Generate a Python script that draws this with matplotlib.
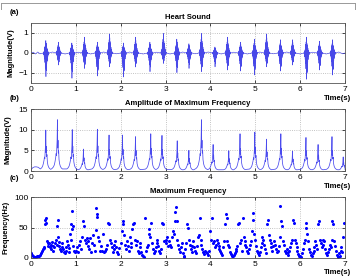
import matplotlib
matplotlib.use('Agg')
import matplotlib.pyplot as plt
import numpy as np
from matplotlib.lines import Line2D

plt.rcParams['font.family'] = ['Liberation Sans', 'DejaVu Sans']

# --- (a) heart sound: burst times and their peak amplitudes
burst_t = [0.33, 0.61, 0.91, 1.19, 1.48, 1.75, 2.06, 2.33, 2.65, 2.95, 3.25, 3.52,
           3.80, 4.10, 4.38, 4.67, 4.98, 5.25, 5.56, 5.83, 6.14, 6.43, 6.72]
burst_pos = [0.62, 0.54, 0.50, 0.79, 0.54, 0.95, 0.50, 0.79, 0.54, 0.98, 0.69, 0.46,
             0.98, 0.30, 0.79, 0.54, 0.69, 0.95, 0.66, 0.66, 0.79, 0.59, 0.66]
burst_neg = [-1.18, -0.60, -1.26, -0.77, -1.15, -0.69, -1.20, -0.70, -0.93, -0.52, -0.98, -0.77,
             -0.93, -0.69, -0.85, -0.90, -1.10, -0.69, -0.90, -0.60, -1.31, -0.85, -1.10]
# waveform shape of one burst (offset in s, relative amplitude)
burst_dt = [-0.055, -0.050, -0.045, -0.040, -0.035, -0.031, -0.027, -0.023, -0.019, -0.015,
            -0.011, -0.007, -0.003, 0.0, 0.003, 0.006, 0.009, 0.012, 0.015, 0.018,
            0.021, 0.025, 0.029, 0.033, 0.037, 0.042, 0.047, 0.052, 0.058, 0.064, 0.070]
burst_rel = [0.0, 0.06, -0.08, 0.12, -0.15, 0.2, -0.25, 0.45, -0.4, 0.55,
             -0.6, 0.7, -0.5, 1.0, -1.0, 0.8, -0.7, 0.6, -0.75, 0.5,
             -0.45, 0.4, -0.35, 0.3, -0.25, 0.18, -0.14, 0.1, -0.07, 0.04, 0.0]
# small baseline ripple between bursts
ripple_t = [0.05, 0.1, 0.15, 0.2, 0.48, 0.76, 1.05, 1.33, 1.62, 1.9, 2.2, 2.5, 2.8,
            3.1, 3.38, 3.66, 3.95, 4.24, 4.52, 4.82, 5.1, 5.4, 5.7, 6.0, 6.28, 6.58, 6.86, 6.95]
ripple_v = [0.04, -0.05, 0.05, -0.04, 0.05, -0.05, 0.04, -0.05, 0.05, -0.04, 0.05, -0.05, 0.04,
            -0.05, 0.05, -0.04, 0.05, -0.05, 0.04, -0.05, 0.05, -0.04, 0.05, -0.05, 0.04, -0.05, 0.05, -0.04]

# --- (b) amplitude of maximum frequency: peak times and heights
peak_t = [0.33, 0.59, 0.92, 1.17, 1.48, 1.74, 2.04, 2.33, 2.67, 2.92, 3.26, 3.52,
          3.80, 4.06, 4.41, 4.66, 4.99, 5.25, 5.57, 5.83, 6.13, 6.40, 6.71, 6.96]
peak_v = [9.9, 12.4, 10.0, 5.3, 10.1, 8.7, 8.7, 8.3, 9.0, 8.6, 7.3, 5.0,
          12.4, 6.4, 4.9, 9.0, 9.4, 7.7, 9.0, 4.8, 8.1, 6.4, 8.3, 3.4]
peak_dt = [-0.12, -0.09, -0.07, -0.055, -0.04, -0.03, -0.022, -0.015, -0.008, 0.0,
           0.006, 0.012, 0.018, 0.026, 0.035, 0.048, 0.065, 0.085, 0.11]
peak_rel = [0.05, 0.08, 0.12, 0.18, 0.26, 0.34, 0.3, 0.45, 0.6, 1.0,
            0.45, 0.6, 0.35, 0.4, 0.22, 0.14, 0.09, 0.06, 0.04]
start_t = [0.0, 0.04, 0.08, 0.12, 0.16, 0.20]
start_v = [0.3, 0.8, 1.0, 1.0, 0.9, 0.6]

# --- (c) maximum frequency scatter
freq_t = [0.0, 0.02, 0.04, 0.06, 0.08, 0.1, 0.12, 0.14, 0.16, 0.18, 0.2, 0.22, 0.24, 0.26, 0.28,
          0.29, 0.31, 0.32, 0.33, 0.34, 0.35, 0.37, 0.38, 0.4, 0.42, 0.44, 0.45, 0.47, 0.49, 0.5,
          0.52, 0.53, 0.55, 0.57, 0.58, 0.6, 0.6, 0.62, 0.63, 0.65, 0.66, 0.68, 0.7, 0.72, 0.73,
          0.75, 0.77, 0.79, 0.8, 0.82, 0.84, 0.85, 0.87, 0.89, 0.9, 0.91, 0.92, 0.93, 0.94, 0.96, 0.98,
          1.0, 1.02, 1.05, 1.08, 1.1, 1.12, 1.14, 1.17, 1.18, 1.2, 1.22, 1.24, 1.26, 1.28, 1.3,
          1.32, 1.34, 1.36, 1.38, 1.4, 1.42, 1.44, 1.46, 1.47, 1.48, 1.5, 1.52, 1.54, 1.56, 1.58,
          1.6, 1.62, 1.65, 1.68, 1.7, 1.72, 1.74, 1.76, 1.78, 1.8, 1.82, 1.84, 1.86, 1.88, 1.9,
          1.92, 1.95, 1.97,
          2.0, 2.02, 2.04, 2.05, 2.07, 2.1, 2.12, 2.14, 2.16, 2.18, 2.2, 2.22, 2.24, 2.26, 2.28,
          2.3, 2.32, 2.34, 2.36, 2.38, 2.4, 2.42, 2.44, 2.46, 2.48, 2.5, 2.52, 2.54, 2.56, 2.58,
          2.6, 2.62, 2.64, 2.66, 2.68, 2.7, 2.72, 2.74, 2.76, 2.78, 2.8, 2.82, 2.84, 2.86, 2.88,
          2.9, 2.92, 2.94, 2.96,
          3.0, 3.02, 3.04, 3.06, 3.08, 3.1, 3.12, 3.14, 3.16, 3.18, 3.2, 3.22, 3.24, 3.25, 3.26,
          3.28, 3.3, 3.32, 3.34, 3.36, 3.38, 3.4, 3.42, 3.44, 3.46, 3.48, 3.5, 3.52, 3.54, 3.56,
          3.58, 3.6, 3.62, 3.64, 3.66, 3.68, 3.7, 3.72, 3.74, 3.76, 3.78, 3.8, 3.82, 3.84, 3.86,
          3.88, 3.9, 3.92, 3.95, 3.97,
          4.0, 4.02, 4.04, 4.06, 4.08, 4.1, 4.12, 4.14, 4.16, 4.18, 4.2, 4.22, 4.24, 4.26, 4.28,
          4.3, 4.32, 4.34, 4.36, 4.38, 4.4, 4.42, 4.44, 4.46, 4.48, 4.5, 4.52, 4.54, 4.56, 4.58,
          4.6, 4.62, 4.64, 4.66, 4.68, 4.7, 4.72, 4.74, 4.76, 4.78, 4.8, 4.82, 4.84, 4.86, 4.88,
          4.9, 4.92, 4.94, 4.96, 4.98,
          5.0, 5.02, 5.04, 5.06, 5.08, 5.1, 5.12, 5.14, 5.16, 5.18, 5.2, 5.22, 5.24, 5.26, 5.28,
          5.3, 5.32, 5.34, 5.36, 5.38, 5.4, 5.42, 5.44, 5.46, 5.48, 5.5, 5.52, 5.54, 5.56, 5.58,
          5.6, 5.62, 5.64, 5.66, 5.68, 5.7, 5.72, 5.74, 5.76, 5.78, 5.8, 5.82, 5.84, 5.86, 5.88,
          5.9, 5.92, 5.94, 5.96, 5.98,
          6.0, 6.02, 6.04, 6.06, 6.08, 6.1, 6.12, 6.14, 6.16, 6.18, 6.2, 6.22, 6.24, 6.26, 6.28,
          6.3, 6.32, 6.34, 6.36, 6.38, 6.4, 6.42, 6.44, 6.46, 6.48, 6.5, 6.52, 6.54, 6.56, 6.58,
          6.6, 6.62, 6.64, 6.66, 6.68, 6.7, 6.72, 6.74, 6.76, 6.78, 6.8, 6.82, 6.84, 6.86, 6.88,
          6.9, 6.92, 6.94, 6.96, 6.98]
freq_hz = [8, 5, 3, 2, 2, 2, 2, 3, 3, 4, 5, 8, 12, 15, 17,
           18, 55, 62, 65, 58, 28, 24, 20, 25, 18, 15, 22, 27, 20, 12,
           18, 25, 30, 22, 52, 63, 35, 26, 20, 15, 12, 24, 18, 14, 10,
           8, 12, 18, 28, 22, 16, 10, 40, 30, 55, 77, 48, 52, 20, 12, 10,
           12, 18, 10, 22, 28, 15, 35, 60, 52, 30, 25, 32, 20, 28, 15,
           33, 10, 25, 38, 22, 12, 46, 82, 72, 68, 35, 28, 12, 20, 12,
           40, 10, 12, 15, 22, 57, 55, 30, 25, 18, 10, 14, 22, 28, 18,
           10, 6, 16,
           25, 45, 60, 55, 38, 22, 15, 28, 20, 12, 35, 25, 18, 48, 55,
           58, 30, 22, 28, 12, 8, 18, 25, 10, 5, 3, 2, 65, 12, 18,
           22, 40, 48, 35, 58, 25, 15, 8, 12, 18, 25, 30, 20, 12, 8,
           15, 58, 55, 28,
           30, 25, 35, 20, 28, 22, 18, 35, 45, 40, 60, 75, 83, 60, 30,
           22, 15, 10, 18, 25, 8, 3, 2, 15, 25, 55, 50, 30, 22, 15,
           10, 20, 28, 18, 12, 8, 20, 35, 38, 65, 30, 22, 15, 10, 6,
           12, 10, 8, 5, 12,
           45, 30, 65, 25, 28, 18, 22, 30, 25, 15, 20, 12, 8, 5, 18,
           28, 55, 72, 65, 28, 22, 18, 10, 6, 4, 3, 5, 8, 12, 15,
           20, 55, 58, 25, 30, 12, 65, 35, 28, 22, 18, 12, 8, 15, 22,
           28, 45, 74, 62, 40,
           30, 20, 12, 8, 5, 10, 18, 25, 35, 30, 22, 15, 8, 55, 62,
           38, 30, 25, 18, 12, 20, 28, 22, 15, 10, 12, 20, 35, 85, 60,
           52, 28, 22, 12, 8, 15, 10, 5, 12, 18, 25, 30, 62, 58, 30,
           25, 18, 12, 6, 3,
           3, 2, 8, 15, 25, 30, 50, 58, 40, 28, 15, 10, 5, 3, 8,
           12, 18, 28, 22, 15, 55, 60, 30, 25, 18, 22, 30, 28, 15, 8,
           5, 10, 15, 22, 18, 30, 60, 55, 28, 20, 12, 5, 2, 8, 3,
           12, 18, 10, 35, 58]

# build the heart sound line from the bursts and the ripple points
pts = [(0.0, 0.0), (7.0, 0.0)] + list(zip(ripple_t, ripple_v))
for t0, vp, vn in zip(burst_t, burst_pos, burst_neg):
    for dt, r in zip(burst_dt, burst_rel):
        pts.append((t0 + dt, r * vp if r >= 0 else -r * vn))
pts.sort()
a_t = [p[0] for p in pts]
a_v = [p[1] for p in pts]

# build the amplitude line from the peaks
b_t = list(start_t)
b_v = list(start_v)
for t0, v in zip(peak_t, peak_v):
    for dt, r in zip(peak_dt, peak_rel):
        b_t.append(t0 + dt)
        b_v.append(max(r * v, 0.3))
b_t.append(7.0)
b_v.append(0.4)

fig = plt.figure(figsize=(3.56, 2.78), dpi=100)
W, H = 356.0, 278.0


def make_axes(top, bottom):
    ax = fig.add_axes([31 / W, 1 - bottom / H, 314 / W, (bottom - top) / H])
    ax.set_xlim(0, 7)
    ax.set_xticks(range(8))
    ax.grid(True, color='#b0b0b0', linestyle=':', linewidth=0.6)
    ax.tick_params(direction='in', length=2, width=0.5, labelsize=6, pad=2,
                   top=True, right=True)
    for s in ax.spines.values():
        s.set_linewidth(0.6)
        s.set_color('#555555')
    return ax


ax1 = make_axes(23, 83)
ax1.plot(a_t, a_v, color='#4848e8', linewidth=0.45)
ax1.set_ylim(-1.5, 1.5)
ax1.set_yticks([-1, 0, 1])
ax1.set_ylabel('Magnitude(V)', fontsize=5.5, fontweight='bold', labelpad=3)
ax1.set_title('Heart Sound', fontsize=5.5, fontweight='bold', pad=3)

ax2 = make_axes(109, 171)
ax2.plot(b_t, b_v, color='#4a4aee', linewidth=0.55)
ax2.set_ylim(0, 15)
ax2.set_yticks([0, 5, 10, 15])
ax2.set_ylabel('Magnitude(V)', fontsize=5.5, fontweight='bold', labelpad=5)
ax2.set_title('Amplitude of Maximum Frequency', fontsize=5.5, fontweight='bold', pad=3)

ax3 = make_axes(197, 258)
ax3.plot(freq_t, freq_hz, '.', color='#0000ff', markersize=2.4)
ax3.set_ylim(0, 100)
ax3.set_yticks([0, 50, 100])
ax3.set_ylabel('Frequency(Hz)', fontsize=5.5, fontweight='bold', labelpad=3)
ax3.set_title('Maximum Frequency', fontsize=5.5, fontweight='bold', pad=3)

for lab, y in [('(a)', 13), ('(b)', 99), ('(c)', 179)]:
    fig.text(10 / W, 1 - y / H, lab, fontsize=5.5, fontweight='bold', va='center')
for y in [99, 187, 272]:
    fig.text(338 / W, 1 - y / H, 'Time(s)', fontsize=5.5, fontweight='bold',
             va='center', ha='center')

# light frame at the top of the panel
fig.add_artist(Line2D([1 / W, 355 / W], [1 - 3 / H, 1 - 3 / H], color='#999999', linewidth=0.7))
fig.add_artist(Line2D([1 / W, 1 / W], [1 - 3 / H, 1 - 9 / H], color='#999999', linewidth=0.7))
fig.add_artist(Line2D([355 / W, 355 / W], [1 - 3 / H, 1 - 9 / H], color='#999999', linewidth=0.7))

fig.savefig('out.png', dpi=100)
